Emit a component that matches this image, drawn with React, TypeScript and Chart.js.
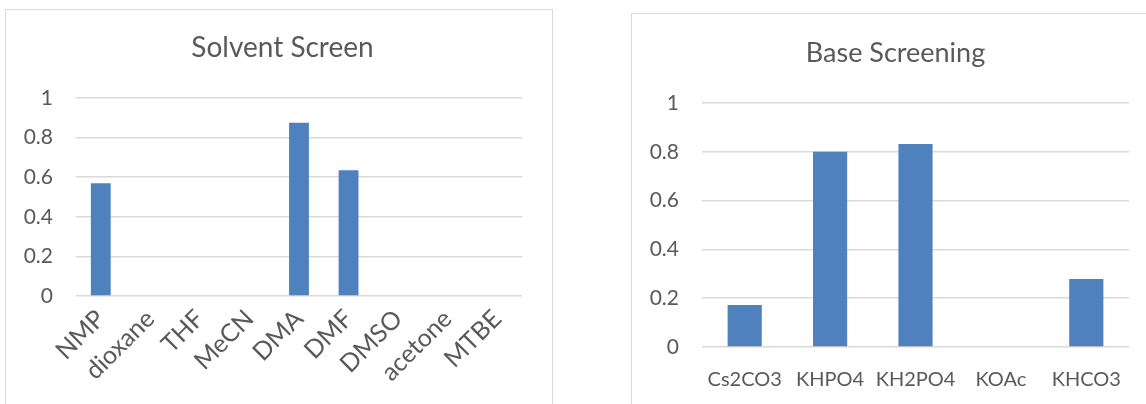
import React, { useEffect, useRef } from "react";
import { Chart, registerables } from "chart.js";

Chart.register(...registerables);

const solventTitle = "Solvent Screen";
const solventCategories = ["NMP", "dioxane", "THF", "MeCN", "DMA", "DMF", "DMSO", "acetone", "MTBE"];
const solventValues = [0.57, 0, 0, 0, 0.875, 0.635, 0, 0, 0];

const baseTitle = "Base Screening";
const baseCategories = ["Cs2CO3", "KHPO4", "KH2PO4", "KOAc", "KHCO3"];
const baseValues = [0.172, 0.8, 0.832, 0, 0.279];

const yTicks = [0, 0.2, 0.4, 0.6, 0.8, 1];

const FONT = "Lato, 'Open Sans', sans-serif";
const TEXT = "#595959";
const GRID = "#D9D9D9";
const BAR = "#4F81BD";

type Cfg = {
  title: string;
  titleSize: number;
  labels: string[];
  values: number[];
  width: number;
  height: number;
  yWidth: number;
  rightWidth: number;
  xHeight: number;
  titleTop: number;
  titleBottom: number;
  rotate: boolean;
  xPad: number;
  xFont: number;
};

function BarChart({ cfg, style }: { cfg: Cfg; style: React.CSSProperties }) {
  const ref = useRef<HTMLCanvasElement | null>(null);
  useEffect(() => {
    if (!ref.current) return;
    const chart = new Chart(ref.current, {
      type: "bar",
      data: {
        labels: cfg.labels,
        datasets: [
          {
            data: cfg.values,
            backgroundColor: BAR,
            borderWidth: 0,
            barPercentage: 0.4,
            categoryPercentage: 1,
          },
        ],
      },
      options: {
        responsive: false,
        animation: false,
        devicePixelRatio: 1,
        layout: { padding: 0 },
        plugins: {
          legend: { display: false },
          tooltip: { enabled: false },
          title: {
            display: true,
            text: cfg.title,
            color: TEXT,
            font: { family: FONT, size: cfg.titleSize, weight: "normal", lineHeight: 1.2 },
            padding: { top: cfg.titleTop, bottom: cfg.titleBottom },
          },
        },
        scales: {
          x: {
            grid: { display: false, drawTicks: false },
            border: { display: false },
            ticks: {
              color: TEXT,
              font: { family: FONT, size: cfg.xFont },
              padding: cfg.xPad,
              autoSkip: false,
              minRotation: cfg.rotate ? 45 : 0,
              maxRotation: cfg.rotate ? 45 : 0,
            },
            afterFit: (s: any) => {
              s.height = cfg.xHeight;
            },
          },
          y: {
            min: 0,
            max: 1,
            grid: { color: GRID, lineWidth: 1.5, drawTicks: false },
            border: { display: false },
            afterBuildTicks: (s: any) => {
              s.ticks = yTicks.map((v) => ({ value: v }));
            },
            ticks: {
              color: TEXT,
              font: { family: FONT, size: 21 },
              padding: 23,
              callback: (v: any) => String(Number(v)),
            },
            afterFit: (s: any) => {
              s.width = cfg.yWidth;
            },
          },
          spacer: {
            type: "linear",
            position: "right",
            display: true,
            grid: { display: false, drawTicks: false },
            border: { display: false },
            ticks: { display: false },
            afterFit: (s: any) => {
              s.width = cfg.rightWidth;
            },
          },
        },
      },
    });
    return () => chart.destroy();
  }, []);
  return <canvas ref={ref} width={cfg.width} height={cfg.height} style={{ position: "absolute", ...style, width: cfg.width, height: cfg.height }} />;
}

export default function App() {
  const left: Cfg = {
    title: solventTitle,
    titleSize: 28,
    labels: solventCategories,
    values: solventValues,
    width: 553,
    height: 395,
    yWidth: 70,
    rightWidth: 37,
    xHeight: 108,
    titleTop: 22.2,
    titleBottom: 33.2,
    rotate: true,
    xPad: 8,
    xFont: 25,
  };
  const right: Cfg = {
    title: baseTitle,
    titleSize: 27,
    labels: baseCategories,
    values: baseValues,
    width: 527,
    height: 391,
    yWidth: 70,
    rightWidth: 30,
    xHeight: 57,
    titleTop: 23.8,
    titleBottom: 33.8,
    rotate: false,
    xPad: 21,
    xFont: 20,
  };
  return (
    <div style={{ position: "fixed", left: 0, top: 0, width: 1146, height: 404, overflow: "hidden", background: "#fff" }}>
      <div style={{ position: "absolute", left: 5, top: 9, width: 548, height: 430, border: "1.5px solid #D9D9D9", boxSizing: "border-box" }} />
      <div style={{ position: "absolute", left: 631, top: 13, width: 540, height: 430, border: "1.5px solid #D9D9D9", boxSizing: "border-box" }} />
      <BarChart cfg={left} style={{ left: 6, top: 9 }} />
      <BarChart cfg={right} style={{ left: 632, top: 13 }} />
    </div>
  );
}
